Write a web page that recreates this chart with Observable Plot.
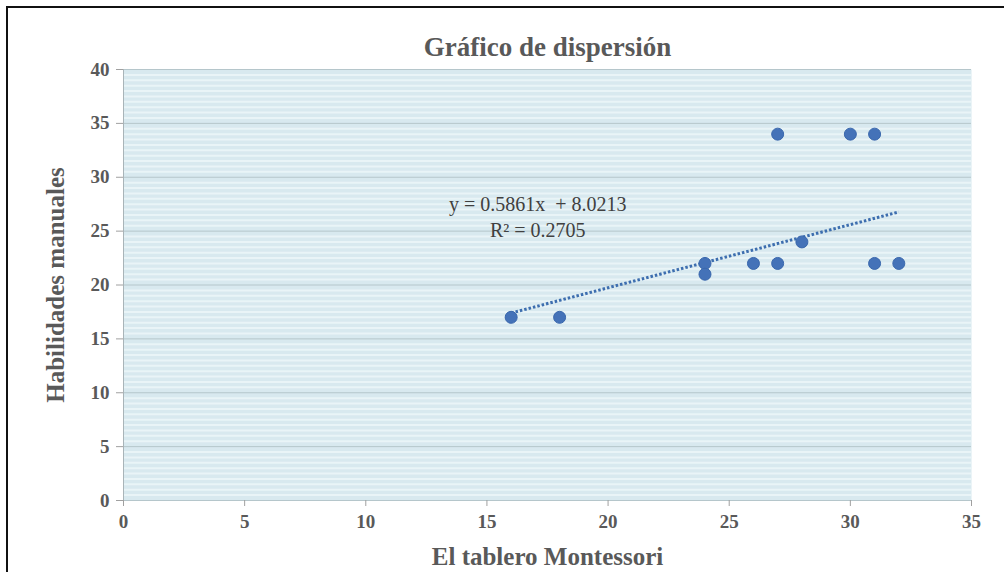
<!DOCTYPE html>
<html>
<head>
<meta charset="utf-8">
<script src="https://cdn.jsdelivr.net/npm/d3@7"></script>
<script src="https://cdn.jsdelivr.net/npm/@observablehq/plot@0.6"></script>
<style>
  html, body { margin: 0; padding: 0; background: #fff; }
  #wrap { position: relative; width: 1004px; height: 572px; overflow: hidden; }
  #border { position: absolute; left: 6px; top: 6px; width: 1010px; height: 580px;
            border-top: 2px solid #111; border-left: 2px solid #111; pointer-events: none; }
  svg { font-family: "Liberation Serif", "Times New Roman", serif; }
</style>
</head>
<body>
<div id="wrap"><div id="chart"></div><div id="border"></div></div>
<script>
const title = "Gráfico de dispersión";
const xLabel = "El tablero Montessori";
const yLabel = "Habilidades manuales";
const xValues = [16, 18, 24, 24, 26, 27, 27, 28, 30, 31, 31, 32];
const yValues = [17, 17, 22, 21, 22, 22, 34, 24, 34, 34, 22, 22];
const slope = 0.5861;
const intercept = 8.0213;
const r2 = 0.2705;
const xTicks = [0, 5, 10, 15, 20, 25, 30, 35];
const yTicks = [0, 5, 10, 15, 20, 25, 30, 35, 40];
const eqLabelAt = [17.1, 26.4];

const points = xValues.map((x, i) => ({x, y: yValues[i]}));
const xMin = d3.min(xValues), xMax = d3.max(xValues);
const trend = [xMin, xMax].map(x => ({x, y: slope * x + intercept}));
const eqText = `y = ${slope}x  + ${intercept}\nR² = ${r2}`;
const minor = d3.range(0, 40, 0.5).filter(v => v % 5 !== 0);

const chart = Plot.plot({
  width: 1004,
  height: 572,
  marginLeft: 123,
  marginRight: 33,
  marginTop: 69,
  marginBottom: 72,
  style: {fontFamily: "Liberation Serif, serif", background: "transparent"},
  x: {domain: [0, 35], ticks: xTicks, label: null},
  y: {domain: [0, 40], ticks: yTicks, label: null},
  marks: [
    Plot.frame({fill: "#d8e9ef", stroke: null}),
    Plot.ruleY(minor, {stroke: "#e9f4f7", strokeWidth: 2}),
    Plot.ruleY(yTicks, {stroke: "#b5c6cb", strokeWidth: 1}),
    Plot.ruleX([0], {stroke: "#a9b4b8", strokeWidth: 1}),
    Plot.axisX({ticks: xTicks, tickSize: 6, tickPadding: 8, stroke: "#a0a0a0",
      fontSize: 19, fontWeight: "bold", fill: "#595959", label: null}),
    Plot.axisY({ticks: yTicks, tickSize: 7, tickPadding: 7, stroke: "#a0a0a0",
      fontSize: 19, fontWeight: "bold", fill: "#595959", label: null}),
    Plot.line(trend, {x: "x", y: "y", stroke: "#3d6eaf", strokeWidth: 3,
      strokeDasharray: "2.5,2", strokeLinecap: "butt"}),
    Plot.dot(points, {x: "x", y: "y", r: 6, fill: "#4472b8", stroke: "#3a68ad", strokeWidth: 1}),
    Plot.text([eqText], {x: () => eqLabelAt[0], y: () => eqLabelAt[1], text: d => d,
      fontSize: 20, fill: "#404040", lineHeight: 1.3, textAnchor: "middle"}),
    Plot.text([title], {frameAnchor: "top", dy: -33, text: d => d, fontSize: 27, fontWeight: "bold", fill: "#595959"}),
    Plot.text([xLabel], {frameAnchor: "bottom", dy: 64, text: d => d, fontSize: 25, fontWeight: "bold", fill: "#595959"}),
    Plot.text([yLabel], {frameAnchor: "left", dx: -68, rotate: -90, textAnchor: "middle",
      text: d => d, fontSize: 25, fontWeight: "bold", fill: "#595959"})
  ]
});
document.getElementById("chart").appendChild(chart);
</script>
</body>
</html>
